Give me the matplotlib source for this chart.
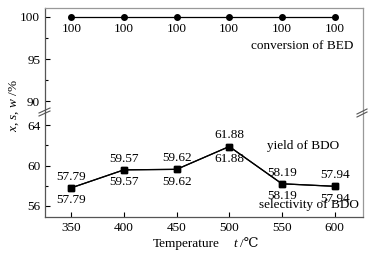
import matplotlib
matplotlib.use('Agg')
import matplotlib.pyplot as plt
from matplotlib.lines import Line2D

temps = [350, 400, 450, 500, 550, 600]
conversion = [100, 100, 100, 100, 100, 100]
yield_bdo = [57.79, 59.57, 59.62, 61.88, 58.19, 57.94]
selectivity = [57.79, 59.57, 59.62, 61.88, 58.19, 57.94]

plt.rcParams['font.family'] = ['Liberation Serif', 'DejaVu Serif']
plt.rcParams['mathtext.fontset'] = 'custom'
plt.rcParams['mathtext.rm'] = 'Liberation Serif'
plt.rcParams['mathtext.it'] = 'Liberation Serif:italic'
plt.rcParams['font.size'] = 9.5

fig = plt.figure(figsize=(3.69, 2.54), dpi=100)
W, H = 369, 254
x0, x1 = 45 / W, 363 / W
ytop, ybrk, ybot = 1 - 8 / H, 1 - 112 / H, 1 - 217 / H
ax_up = fig.add_axes([x0, ybrk, x1 - x0, ytop - ybrk])
ax_lo = fig.add_axes([x0, ybot, x1 - x0, ybrk - ybot])

spine_c = '#555555'
for ax in (ax_up, ax_lo):
    ax.set_xlim(325, 627)
    ax.tick_params(direction='in', length=3.5, width=0.8, labelsize=9.5)
    ax.tick_params(which='minor', direction='in', length=2, width=0.8)
    for s in ax.spines.values():
        s.set_linewidth(0.9)
        s.set_color(spine_c)
    ax.spines['right'].set_color('#999999')
    ax.tick_params(right=False, top=False)

ax_up.spines['bottom'].set_visible(False)
ax_lo.spines['top'].set_visible(False)
ax_up.tick_params(bottom=False, labelbottom=False)
ax_up.spines['top'].set_color('#999999')

ax_up.set_ylim(88.7, 101.07)
ax_up.set_yticks([90, 95, 100])
ax_up.set_yticks([92.5, 97.5], minor=True)
ax_lo.set_ylim(54.9, 65.3)
ax_lo.set_yticks([56, 60, 64])
ax_lo.set_yticks([58, 62], minor=True)
ax_lo.set_xticks(temps)

ax_up.plot(temps, conversion, color='black', lw=0.9, marker='o', ms=4)
ax_lo.plot(temps, yield_bdo, color='black', lw=0.9, marker='s', ms=4)
ax_lo.plot(temps, selectivity, color='black', lw=0.9, marker='s', ms=4)

for t, v in zip(temps, conversion):
    ax_up.annotate(f'{v}', (t, v), xytext=(0, -9), textcoords='offset points',
                   ha='center', va='center')
for t, v in zip(temps, yield_bdo):
    ax_lo.annotate(f'{v:.2f}', (t, v), xytext=(0, 8), textcoords='offset points',
                   ha='center', va='center')
for t, v in zip(temps, selectivity):
    ax_lo.annotate(f'{v:.2f}', (t, v), xytext=(0, -9), textcoords='offset points',
                   ha='center', va='center')

ax_up.text(0.97, 0.63, 'conversion of BED', transform=ax_up.transAxes,
           ha='right', va='center')
ax_lo.text(303 / W, 1 - 146 / H, 'yield of BDO', transform=fig.transFigure,
           ha='center', va='center')
ax_lo.text(309 / W, 1 - 205 / H, 'selectivity of BDO', transform=fig.transFigure,
           ha='center', va='center')

# x label: "Temperature    t /℃"
fig.text(153 / W, 1 - 244 / H, 'Temperature', ha='left', va='center')
fig.text(233 / W, 1 - 244 / H, 't', style='italic', ha='left', va='center')
fig.text(240 / W, 1 - 244 / H, '/\u2103', ha='left', va='center')
fig.text(14 / W, 1 - 106 / H, '$x$, $s$, $w$ /%', rotation=90, ha='center', va='center')

# axis break marks
for (xa, xb, ya, yb) in [(39, 50, 113, 108), (39, 50, 116, 111),
                         (357, 367, 114, 109), (357, 367, 117, 112)]:
    fig.add_artist(Line2D([xa / W, xb / W], [1 - ya / H, 1 - yb / H],
                          transform=fig.transFigure, color=spine_c, lw=0.8))

fig.savefig('out.png', dpi=100)
